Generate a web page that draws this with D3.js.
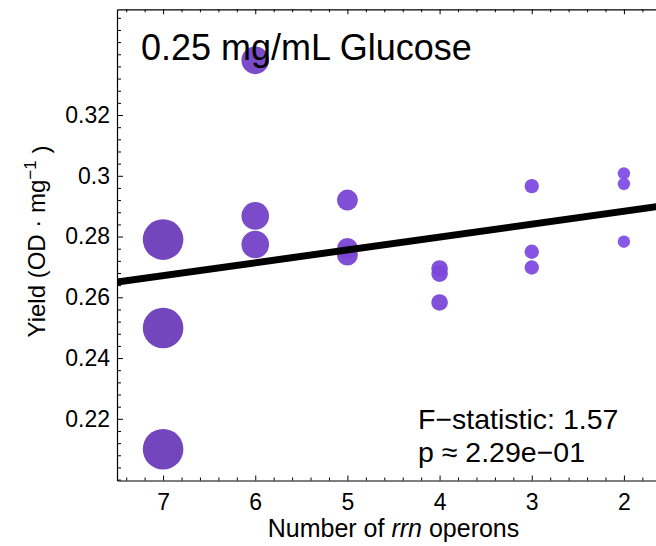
<!DOCTYPE html>
<html>
<head>
<meta charset="utf-8">
<script src="https://cdn.jsdelivr.net/npm/d3@7"></script>
<style>
  body { margin: 0; background: #fff; }
  text { font-family: "Liberation Sans", Arial, Helvetica, sans-serif; fill: #000; }
</style>
</head>
<body>
<div id="chart"></div>
<script>
// data
const operons = [7, 6, 5, 4, 3, 2];
const yields = [
  [0.2790, 0.2499, 0.2100],
  [0.3380, 0.2868, 0.2774],
  [0.2920, 0.2761, 0.2739],
  [0.2695, 0.2678, 0.2583],
  [0.2966, 0.2750, 0.2698],
  [0.3008, 0.2973, 0.2783]
];
const fitIntercept = 0.2968;
const fitSlope = -0.00424;
const xTicks = [7, 6, 5, 4, 3, 2];
const yTicks = [0.22, 0.24, 0.26, 0.28, 0.30, 0.32];
const titleText = "0.25 mg/mL Glucose";
const statLines = ["F\u2212statistic: 1.57", "p \u2248 2.29e\u221201"];

const W = 656, H = 546;
const pLeft = 117, pRight = 670, pTop = 9.3, pBottom = 480.5;

const svg = d3.select("#chart").append("svg")
  .attr("width", W).attr("height", H);

const x = d3.scaleLinear().domain([7.5, 1.5]).range([pLeft, pRight]);
const y = d3.scaleLinear().domain([0.1997, 0.3548]).range([pBottom, pTop]);

// point size / colour per operon count
const rScale = d3.scaleOrdinal().domain(operons).range([20.3, 13.8, 10.5, 8.3, 7.2, 6.2]);
const cScale = d3.scaleOrdinal().domain(operons)
  .range(["#6b3cb9", "#7342c7", "#7946d3", "#7b48da", "#7e4be1", "#814fe6"]);

const points = [];
operons.forEach((o, i) => yields[i].forEach(v => points.push({o: o, v: v})));

svg.append("defs").append("clipPath").attr("id", "clip")
  .append("rect").attr("x", pLeft).attr("y", pTop)
  .attr("width", pRight - pLeft).attr("height", pBottom - pTop);

const plot = svg.append("g").attr("clip-path", "url(#clip)");

plot.append("g").selectAll("circle")
  .data(points)
  .join("circle")
    .attr("cx", d => x(d.o))
    .attr("cy", d => y(d.v))
    .attr("r", d => rScale(d.o))
    .style("fill", d => cScale(d.o))
    .style("fill-opacity", 0.95);

// regression line
plot.append("path")
  .datum(x.domain())
  .attr("d", d3.line().x(d => x(d)).y(d => y(fitIntercept + fitSlope * d)))
  .attr("fill", "none")
  .attr("stroke", "#000")
  .attr("stroke-width", 7);

// minor tick values
const xMinor = d3.range(74, 15, -2).map(v => v / 10).filter(v => !xTicks.includes(v));
const yMinor = d3.range(200, 355, 4).map(v => v / 1000).filter(v => !yTicks.some(t => Math.abs(t - v) < 1e-6));

function styleAxis(g) {
  g.selectAll("line").attr("stroke", "#000").attr("stroke-width", 1);
  g.selectAll("path").attr("stroke", "#000").attr("stroke-width", 1.2);
  g.selectAll("text").style("font-family", '"Liberation Sans", Arial, Helvetica, sans-serif').attr("fill", "#000");
}

// bottom
svg.append("g").attr("transform", `translate(0,${pBottom})`)
  .call(d3.axisBottom(x).tickValues(xTicks).tickFormat(d3.format("d"))
    .tickSizeInner(-5).tickSizeOuter(0).tickPadding(13))
  .call(g => g.selectAll("text").style("font-size", "23px"))
  .call(styleAxis);
svg.append("g").attr("transform", `translate(0,${pBottom})`)
  .call(d3.axisBottom(x).tickValues(xMinor).tickFormat("").tickSizeInner(-3).tickSizeOuter(0))
  .call(g => g.select(".domain").remove())
  .call(styleAxis);

// top
svg.append("g").attr("transform", `translate(0,${pTop})`)
  .call(d3.axisTop(x).tickValues(xTicks).tickFormat("").tickSizeInner(-5).tickSizeOuter(0))
  .call(styleAxis);
svg.append("g").attr("transform", `translate(0,${pTop})`)
  .call(d3.axisTop(x).tickValues(xMinor).tickFormat("").tickSizeInner(-3).tickSizeOuter(0))
  .call(g => g.select(".domain").remove())
  .call(styleAxis);

// left
svg.append("g").attr("transform", `translate(${pLeft},0)`)
  .call(d3.axisLeft(y).tickValues(yTicks).tickFormat(d3.format(".2~f"))
    .tickSizeInner(-6).tickSizeOuter(0).tickPadding(7))
  .call(g => g.selectAll("text").style("font-size", "23px"))
  .call(styleAxis);
svg.append("g").attr("transform", `translate(${pLeft},0)`)
  .call(d3.axisLeft(y).tickValues(yMinor).tickFormat("").tickSizeInner(-4).tickSizeOuter(0))
  .call(g => g.select(".domain").remove())
  .call(styleAxis);

// right (mostly off-canvas)
svg.append("g").attr("transform", `translate(${pRight},0)`)
  .call(d3.axisRight(y).tickValues(yTicks).tickFormat("").tickSizeInner(-6).tickSizeOuter(0))
  .call(styleAxis);

// title
svg.append("text")
  .attr("x", 141).attr("y", 60)
  .style("font-size", "36px")
  .text(titleText);

// statistics
svg.append("g").selectAll("text")
  .data(statLines)
  .join("text")
    .attr("x", 418)
    .attr("y", (d, i) => 428.5 + i * 33.3)
    .style("font-size", "28.5px")
    .text(d => d);

// axis titles
const xt = svg.append("text")
  .attr("x", (pLeft + pRight) / 2).attr("y", 537)
  .attr("text-anchor", "middle")
  .style("font-size", "25px");
xt.append("tspan").text("Number of ");
xt.append("tspan").style("font-style", "italic").text("rrn");
xt.append("tspan").text(" operons");

const yt = svg.append("text")
  .attr("transform", "translate(45,241.5) rotate(-90)")
  .attr("text-anchor", "middle")
  .style("font-size", "24px");
yt.append("tspan").text("Yield (OD \u00b7 mg");
yt.append("tspan").attr("dy", "-0.55em").style("font-size", "17px").text("\u22121");
yt.append("tspan").attr("dy", "0.55em").text(" )");
</script>
</body>
</html>
